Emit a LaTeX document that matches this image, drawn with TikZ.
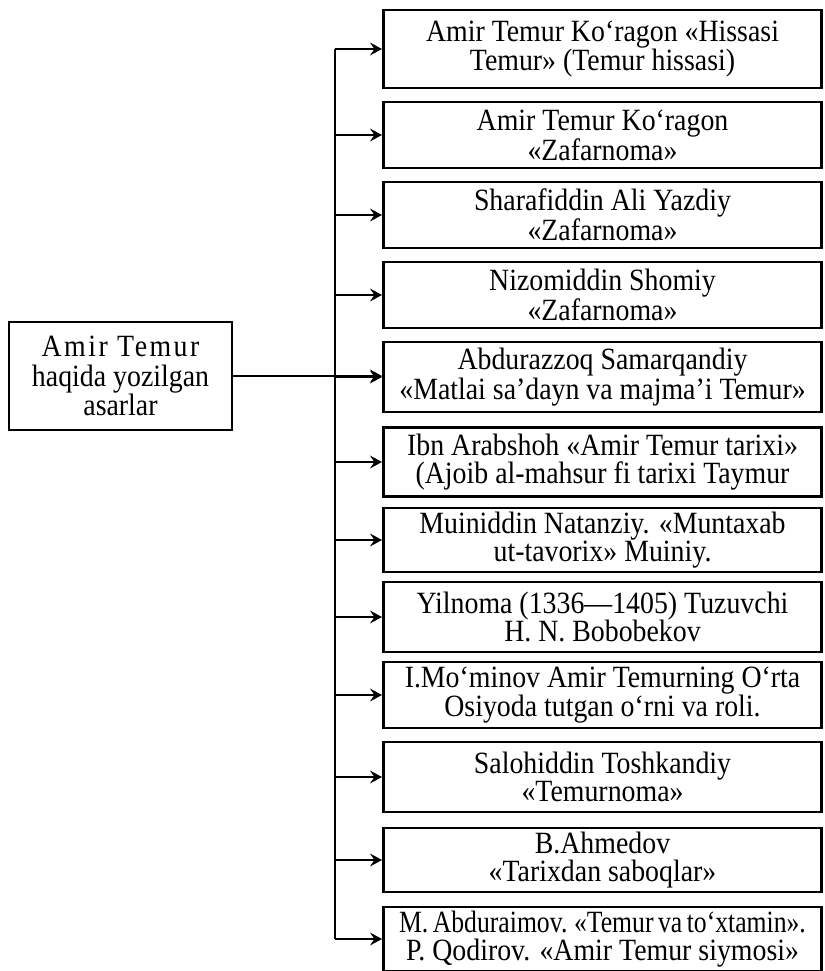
\documentclass[tikz,border=0pt]{standalone}
\usepackage{fontspec}
\setmainfont{Liberation Serif}[FakeStretch=0.9]
\newfontfamily\narrowserif{Liberation Serif}[FakeStretch=0.83, WordSpace=0.7]
\usetikzlibrary{arrows.meta, positioning, calc}
\tikzset{
  % one pixel of the page is 0.025cm; y runs downwards
  every picture/.append style = {line width=1.8pt, >={Stealth[length=3mm, width=3.2mm, inset=1.1mm]}},
  srcbox/.style  = {draw, line width=2pt, minimum width=10.95cm, inner sep=1pt,
                    align=center, font=\fontsize{22}{20}\selectfont},
  mainbox/.style = {draw, line width=2pt, minimum width=5.575cm, minimum height=2.7cm,
                    inner sep=1pt, align=center, font=\fontsize{22}{21}\selectfont},
  link/.style    = {->, line width=1.8pt},
}

\begin{document}
\begin{tikzpicture}[x=0.025cm, y=-0.025cm]
  \useasboundingbox (0,0) rectangle (824,971);
  % the subject
  \node[mainbox] (main) at (120.5,376)
    {{\addfontfeature{LetterSpace=8}Amir Temur}\\haqida yozilgan\\asarlar};
  % the works, top to bottom
  \node[srcbox, minimum height=1.95cm]  (w1)  at (602.5,49)  {Amir Temur Ko‘ragon «Hissasi\\Temur» (Temur hissasi)};
  \node[srcbox, minimum height=1.65cm]  (w2)  at (602.5,135) {Amir Temur Ko‘ragon\\«Zafarnoma»};
  \node[srcbox, minimum height=1.65cm]  (w3)  at (602.5,215) {Sharafiddin Ali Yazdiy\\«Zafarnoma»};
  \node[srcbox, minimum height=1.65cm]  (w4)  at (602.5,295) {Nizomiddin Shomiy\\«Zafarnoma»};
  \node[srcbox, minimum height=1.75cm]  (w5)  at (602.5,377) {Abdurazzoq Samarqandiy\\«Matlai sa’dayn va majma’i Temur»};
  \node[srcbox, minimum height=1.725cm] (w6)  at (602.5,462) {Ibn Arabshoh «Amir Temur tarixi»\\(Ajoib al-mahsur fi tarixi Taymur};
  \node[srcbox, minimum height=1.6cm]   (w7)  at (602.5,540) {Muiniddin Natanziy. «Muntaxab\\ut-tavorix» Muiniy.};
  \node[srcbox, minimum height=1.75cm]  (w8)  at (602.5,617) {Yilnoma (1336—1405) Tuzuvchi\\H. N. Bobobekov};
  \node[srcbox, minimum height=1.65cm]  (w9)  at (602.5,695) {I.Mo‘minov Amir Temurning O‘rta\\Osiyoda tutgan o‘rni va roli.};
  \node[srcbox, minimum height=1.75cm]  (w10) at (602.5,777) {Salohiddin Toshkandiy\\«Temurnoma»};
  \node[srcbox, minimum height=1.6cm]   (w11) at (602.5,860) {B.Ahmedov\\«Tarixdan saboqlar»};
  \node[srcbox, minimum height=1.6cm]   (w12) at (602.5,939) {\narrowserif M. Abduraimov. «Temur va to‘xtamin».\\P. Qodirov. «Amir Temur siymosi»};
  % trunk and branches
  \coordinate (trunk) at (335,0);
  \draw (w1.west -| trunk) -- (w12.west -| trunk);
  \foreach \i in {1,...,12}
    \draw[link] (w\i.west -| trunk) -- (w\i.west);
  \draw[link] (main.east) -- (main.east -| w5.west);
\end{tikzpicture}
\end{document}
